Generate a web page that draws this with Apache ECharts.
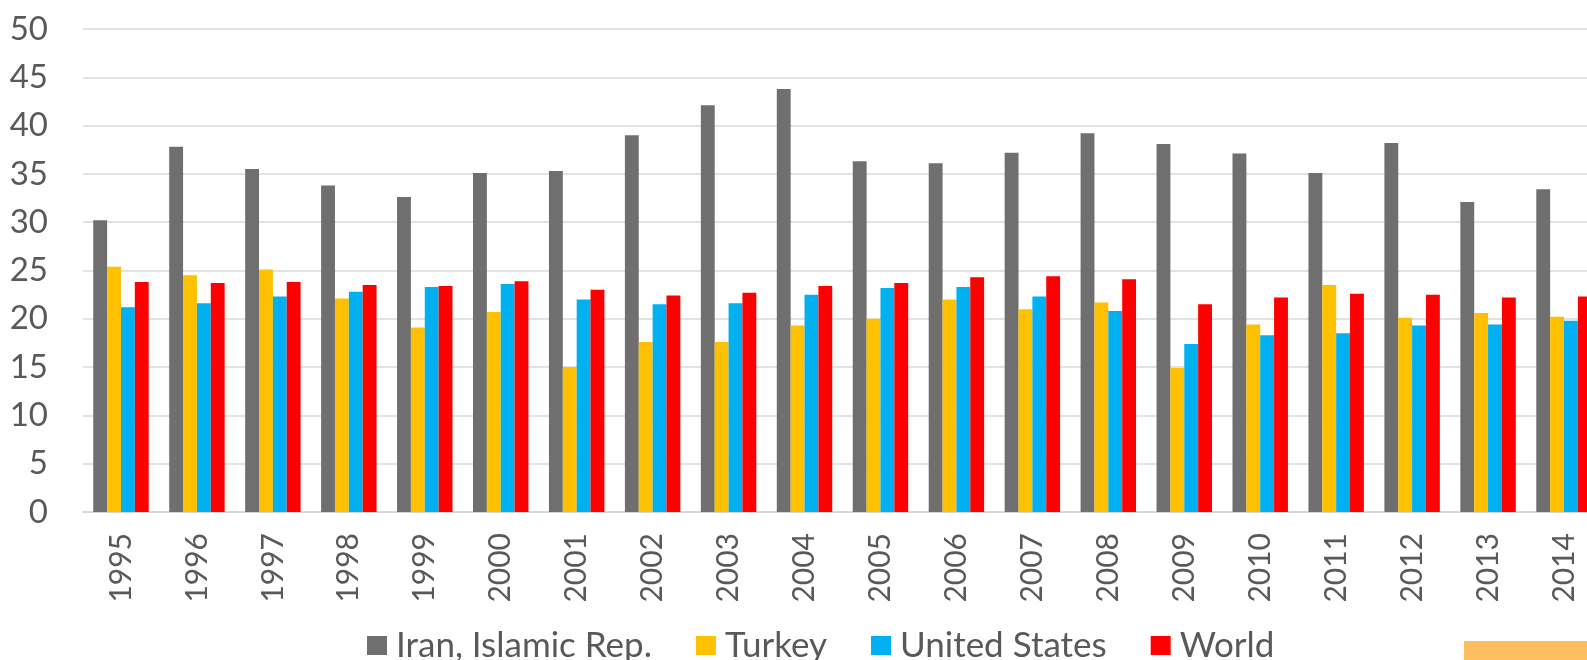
<!DOCTYPE html>
<html>
<head>
<meta charset="utf-8">
<script src="https://cdn.jsdelivr.net/npm/echarts@6/dist/echarts.min.js"></script>
<style>
html,body{margin:0;padding:0;background:#fff;}
#chart{width:1587px;height:660px;}
</style>
</head>
<body>
<div id="chart"></div>
<script>
const years = ['1995','1996','1997','1998','1999','2000','2001','2002','2003','2004','2005','2006','2007','2008','2009','2010','2011','2012','2013','2014'];
const iran = [30.2,37.8,35.5,33.8,32.6,35.1,35.3,39.0,42.1,43.8,36.3,36.1,37.2,39.2,38.1,37.1,35.1,38.2,32.1,33.4];
const turkey = [25.4,24.5,25.1,22.1,19.1,20.7,15.0,17.6,17.6,19.3,20.0,22.0,21.0,21.7,14.9,19.4,23.5,20.1,20.6,20.2];
const usa = [21.2,21.6,22.3,22.8,23.3,23.6,22.0,21.5,21.6,22.5,23.2,23.3,22.3,20.8,17.4,18.3,18.5,19.3,19.4,19.8];
const world = [23.8,23.7,23.8,23.5,23.4,23.9,23.0,22.4,22.7,23.4,23.7,24.3,24.4,24.1,21.5,22.2,22.6,22.5,22.2,22.3];
const seriesNames = ['Iran, Islamic Rep.','Turkey','United States','World'];
const colors = ['#6F6F6F','#FFC000','#00B0F0','#FF0000'];

const font = 'Lato, "Open Sans", sans-serif';
const chart = echarts.init(document.getElementById('chart'));
const data = [iran, turkey, usa, world];
chart.setOption({
  animation: false,
  color: colors,
  grid: {left: 83, top: 29, width: 1519, height: 483, containLabel: false, outerBoundsMode: 'none'},
  legend: {
    left: 362, top: 623,
    itemWidth: 20, itemHeight: 19, itemGap: 44,
    icon: 'rect',
    textStyle: {fontFamily: font, fontSize: 35, color: '#595959', padding: [0,0,0,4]},
    data: seriesNames
  },
  xAxis: {
    type: 'category',
    data: years,
    axisLine: {lineStyle: {color: '#D9D9D9', width: 2}},
    axisTick: {show: false},
    axisLabel: {rotate: 90, fontFamily: font, fontSize: 30, color: '#595959', margin: 21, interval: 0}
  },
  yAxis: {
    type: 'value', min: 0, max: 50, interval: 5,
    axisLine: {show: false}, axisTick: {show: false},
    splitLine: {lineStyle: {color: '#D9D9D9', width: 1.5}},
    axisLabel: {fontFamily: font, fontSize: 33, color: '#595959', margin: 35}
  },
  series: seriesNames.map((n, i) => ({
    name: n, type: 'bar', data: data[i],
    barGap: '0%', barCategoryGap: '27%',
    itemStyle: {color: colors[i]}
  })),
  graphic: [{
    type: 'rect', left: 1464, top: 641,
    shape: {width: 123, height: 19},
    style: {fill: '#FDBE5F'}, silent: true
  }]
});
</script>
</body>
</html>
